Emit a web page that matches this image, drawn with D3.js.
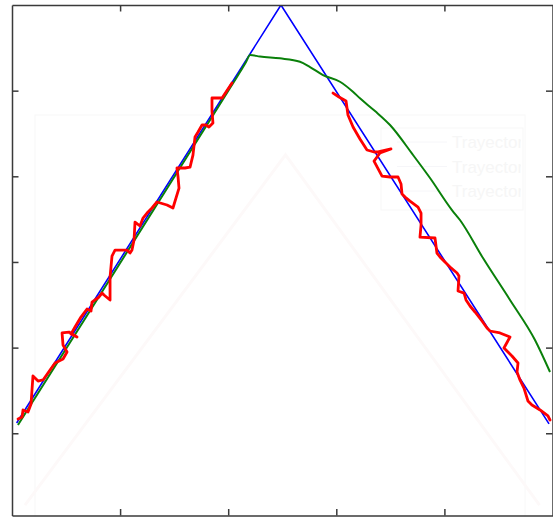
<!DOCTYPE html>
<html>
<head>
<meta charset="utf-8">
<script src="https://cdn.jsdelivr.net/npm/d3@7"></script>
<style>
  html, body { margin: 0; padding: 0; background: #fff; }
  svg { display: block; }
  text { font-family: "Liberation Sans", Arial, sans-serif; }
</style>
</head>
<body>
<svg id="chart" width="553" height="517"></svg>
<script>
// ---------------- data ----------------
const xTicks = [10, 20, 30, 40];
const yTicks = [10, 20, 30, 40, 50];

// reference trajectory (blue)
const refX = [0.43, 24.88, 49.68];
const refY = [11.2, 60.0, 11.1];

// smoothed trajectory (green)
const smoothX = [0.55, 8.14, 17.39, 20.17, 21.65, 22.02, 22.94, 24.79, 26.64, 27.57, 28.77, 30.34, 31.54, 32.19, 33.58, 34.97, 37.10, 38.67, 40.70, 41.44, 43.57, 46.07, 48.38, 49.77];
const smoothY = [10.97, 26.14, 44.70, 50.31, 53.34, 54.16, 53.98, 53.77, 53.38, 52.76, 51.82, 51.04, 49.87, 49.10, 47.62, 45.99, 42.49, 39.80, 36.06, 34.90, 30.46, 25.56, 20.89, 17.15];

// measured trajectory (red), rising part
const measAX = [0.56, 0.93, 1.02, 1.48, 1.76, 1.94, 2.41, 2.87, 3.52, 3.98, 4.72, 5.09, 4.72, 4.63, 5.27, 6.01, 5.46, 5.83, 6.38, 6.94, 7.31, 7.40, 8.05, 8.33, 8.51, 9.07, 9.07, 9.25, 9.53, 10.64, 10.92, 11.10, 11.29, 11.38, 11.84, 12.12, 12.49, 12.95, 13.41, 14.34, 14.89, 15.45, 15.36, 15.26, 16.00, 16.47, 16.74, 16.93, 17.21, 17.58, 17.95, 18.22, 18.59, 18.50, 18.50, 19.43, 20.35];
const measAY = [11.67, 11.90, 12.72, 12.48, 13.42, 16.69, 16.10, 16.22, 17.39, 18.20, 18.67, 19.49, 20.30, 21.71, 21.82, 21.24, 21.59, 22.41, 23.57, 24.51, 24.27, 25.32, 25.91, 26.37, 26.14, 25.56, 28.24, 30.69, 31.39, 31.39, 31.04, 31.39, 32.56, 34.66, 34.20, 35.13, 35.71, 36.30, 37.00, 36.65, 36.30, 38.63, 39.92, 40.97, 40.97, 41.08, 42.48, 44.59, 45.17, 45.99, 45.99, 45.75, 46.22, 47.62, 49.14, 49.14, 50.89];
// measured trajectory (red), falling part
const measBX = [29.70, 30.25, 30.90, 31.08, 31.55, 32.19, 32.84, 33.49, 33.86, 35.06, 34.04, 33.49, 34.23, 34.97, 35.71, 35.99, 36.08, 36.36, 36.82, 37.56, 37.84, 37.84, 37.74, 39.13, 39.31, 39.59, 40.52, 41.17, 41.35, 41.26, 41.82, 42.00, 42.37, 42.83, 43.48, 43.94, 44.22, 45.14, 46.07, 45.51, 46.25, 46.81, 46.72, 46.99, 47.36, 47.73, 48.10, 48.85, 49.58, 49.77];
const measBY = [49.72, 49.26, 48.79, 47.15, 45.75, 44.35, 43.07, 42.84, 42.84, 43.19, 42.72, 41.78, 40.03, 39.92, 39.92, 39.10, 37.93, 37.58, 37.11, 36.41, 35.71, 34.31, 32.91, 32.80, 31.04, 30.58, 29.41, 28.71, 28.36, 26.61, 26.37, 25.56, 24.86, 24.16, 23.11, 22.29, 21.94, 21.71, 21.24, 19.95, 19.02, 18.20, 17.15, 16.22, 15.28, 13.77, 13.30, 12.72, 12.02, 11.55];

// faint ghost legend entries
const ghostLegend = ["Trayectoria", "Trayectoria", "Trayectoria"];
// faint ghost triangle (same units)
const ghostX = [1.2, 25.3, 48.8];
const ghostY = [1.6, 42.5, 1.6];

// ---------------- layout ----------------
(function () {
const svg = d3.select("#chart");
const pL = 12, pR = 552.5, pT = 5, pB = 515.5;

const x = d3.scaleLinear().domain([0, 50]).range([pL, pR]);
const y = d3.scaleLinear().domain([0.4, 60]).range([pB, pT]);

svg.append("rect").attr("width", 553).attr("height", 517).attr("fill", "#fff");

svg.append("defs").append("clipPath").attr("id", "plotclip")
  .append("rect").attr("x", pL).attr("y", pT).attr("width", pR - pL).attr("height", pB - pT);

const zip = (a, b) => a.map((v, i) => [v, b[i]]);
const line = d3.line().x(d => x(d[0])).y(d => y(d[1]));

// ghost layer (very faint)
const ghost = svg.append("g");
ghost.append("rect").attr("x", 35).attr("y", 115).attr("width", 490).attr("height", 420)
  .attr("fill", "none").attr("stroke", "#f8f8f8").attr("stroke-width", 1);
ghost.append("path").datum(zip(ghostX, ghostY)).attr("d", line)
  .attr("fill", "none").attr("stroke", "#fdf9f9").attr("stroke-width", 3);
const lg = ghost.append("g");
lg.append("clipPath").attr("id", "legclip").append("rect")
  .attr("x", 381).attr("y", 128).attr("width", 140).attr("height", 82);
lg.append("rect").attr("x", 381).attr("y", 128).attr("width", 142).attr("height", 82)
  .attr("fill", "none").attr("stroke", "#f7f7f7");
ghostLegend.forEach((t, i) => {
  const yy = 142 + i * 24.5;
  lg.append("line").attr("x1", 397).attr("x2", 447).attr("y1", yy).attr("y2", yy)
    .attr("stroke", "#f6f6f9").attr("stroke-width", 1);
  lg.append("text").attr("x", 452).attr("y", yy + 6).attr("font-size", 17)
    .attr("fill", "#f6f6f6").attr("clip-path", "url(#legclip)").text(t);
});

// data lines
const plot = svg.append("g").attr("clip-path", "url(#plotclip)");

plot.append("path").datum(zip(refX, refY)).attr("d", line)
  .attr("fill", "none").attr("stroke", "#0000ff").attr("stroke-width", 1.6)
  .attr("stroke-linejoin", "round");
plot.append("path").datum(zip(smoothX, smoothY))
  .attr("d", d3.line().curve(d3.curveMonotoneX).x(d => x(d[0])).y(d => y(d[1])))
  .attr("fill", "none").attr("stroke", "#0a800a").attr("stroke-width", 2)
  .attr("stroke-linejoin", "round");
[zip(measAX, measAY), zip(measBX, measBY)].forEach(seg => {
  plot.append("path").datum(seg).attr("d", line)
    .attr("fill", "none").attr("stroke", "#ff0000").attr("stroke-width", 2.8)
    .attr("stroke-linejoin", "round").attr("stroke-linecap", "round");
});

// axes (box with inward ticks, no labels)
const tk = 6.5;
function styleAxis(g) {
  g.selectAll("path.domain").attr("stroke", "#3a3a3a").attr("stroke-width", 1.5);
  g.selectAll(".tick line").attr("stroke", "#3a3a3a").attr("stroke-width", 1.5);
  g.selectAll(".tick text").remove();
}
svg.append("g").attr("transform", `translate(0,${pB})`)
  .call(d3.axisBottom(x).tickValues(xTicks).tickSizeInner(-tk).tickSizeOuter(0).tickFormat(""))
  .call(styleAxis);
svg.append("g").attr("transform", `translate(0,${pT})`)
  .call(d3.axisTop(x).tickValues(xTicks).tickSizeInner(-tk).tickSizeOuter(0).tickFormat(""))
  .call(styleAxis);
svg.append("g").attr("transform", `translate(${pL},0)`)
  .call(d3.axisLeft(y).tickValues(yTicks).tickSizeInner(-tk).tickSizeOuter(0).tickFormat(""))
  .call(styleAxis);
svg.append("g").attr("transform", `translate(${pR},0)`)
  .call(d3.axisRight(y).tickValues(yTicks).tickSizeInner(-tk).tickSizeOuter(0).tickFormat(""))
  .call(styleAxis);
})();
</script>
</body>
</html>
